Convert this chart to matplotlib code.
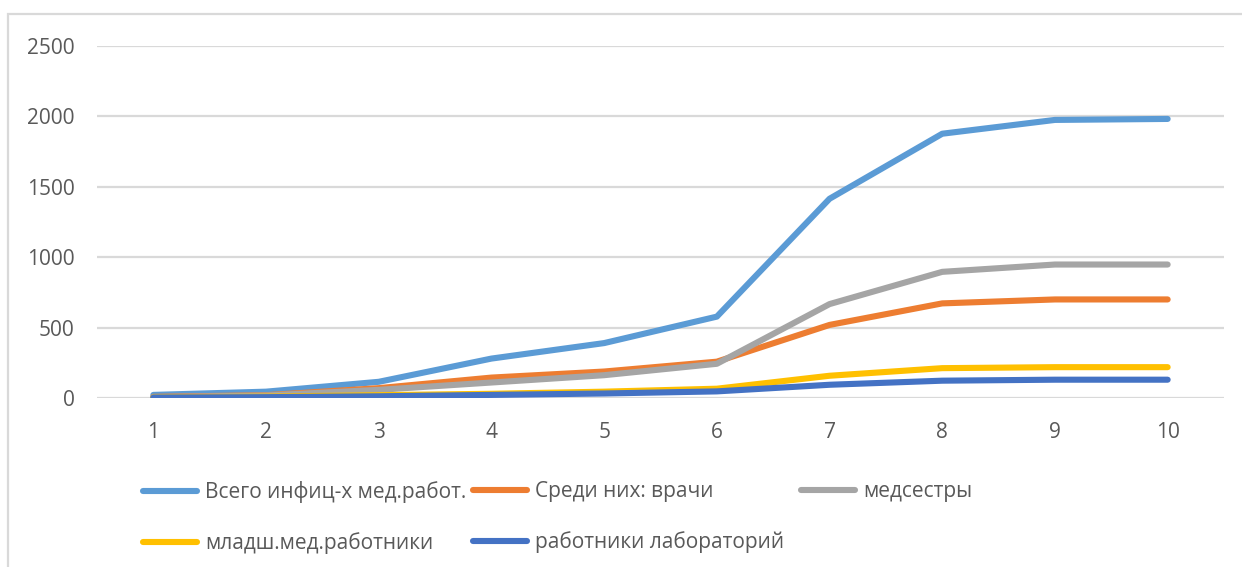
import matplotlib
matplotlib.use("Agg")
import matplotlib.pyplot as plt
from matplotlib.patches import Rectangle

plt.rcParams["font.family"] = ["Open Sans", "DejaVu Sans"]

# ---------------------------------------------------------------------------
# Data: infected medical staff, by reporting period
# ---------------------------------------------------------------------------
periods = [1, 2, 3, 4, 5, 6, 7, 8, 9, 10]
total_staff = [22, 45, 115, 280, 390, 578, 1415, 1877, 1975, 1982]
doctors = [8, 20, 70, 145, 188, 258, 519, 672, 700, 700]
nurses = [6, 18, 58, 110, 162, 243, 667, 896, 948, 948]
junior_staff = [4, 10, 20, 30, 45, 66, 158, 212, 219, 219]
lab_staff = [3, 6, 12, 22, 32, 47, 94, 123, 130, 130]

labels = [
    "Всего инфиц-х мед.работ.",
    "Среди них: врачи",
    "медсестры",
    "младш.мед.работники",
    "работники лабораторий",
]
y_ticks = [0, 500, 1000, 1500, 2000, 2500]

COLORS = ["#5B9BD5", "#ED7D31", "#A5A5A5", "#FFC000", "#4472C4"]
GRID = "#D9D9D9"
TEXT = "#595959"

fig = plt.figure(figsize=(12.42, 5.67), dpi=100)
ax = fig.add_axes([97 / 1242, 1 - 398 / 567, 1127 / 1242, 352 / 567])

series = [total_staff, doctors, nurses, junior_staff, lab_staff]
lines = []
for values, color, label in zip(series, COLORS, labels):
    (ln,) = ax.plot(periods, values, color=color, lw=4.4, label=label,
                    solid_capstyle="round", solid_joinstyle="round")
    lines.append(ln)

ax.set_xlim(0.5, 10.5)
ax.set_ylim(0, 2500)
ax.set_xticks(periods)
ax.set_yticks(y_ticks)
ax.tick_params(axis="both", length=0, labelsize=15, colors=TEXT)
ax.tick_params(axis="y", pad=16)
ax.tick_params(axis="x", pad=17)
ax.grid(axis="y", color=GRID, lw=1.6)
ax.set_axisbelow(True)
for spine in ax.spines.values():
    spine.set_visible(False)

# outer chart frame
fig.patches.append(Rectangle((8 / 1242, -0.5), 2.0, 1.5 - 14 / 567,
                             transform=fig.transFigure, fill=False,
                             edgecolor=GRID, lw=1.6))

# legend laid out in fixed-width columns
columns = [[0, 3], [1, 4], [2]]
col_x = [143, 473, 801]
for idx, x0 in zip(columns, col_x):
    leg = fig.legend([lines[i] for i in idx], [labels[i] for i in idx],
                     loc="upper left", bbox_to_anchor=(x0 / 1242, 1 - 481 / 567),
                     frameon=False, borderpad=0, borderaxespad=0,
                     handlelength=2.6, handletextpad=0.38, labelspacing=1.42,
                     fontsize=15)
    for t in leg.get_texts():
        t.set_color(TEXT)

fig.savefig("out.png", dpi=100)
